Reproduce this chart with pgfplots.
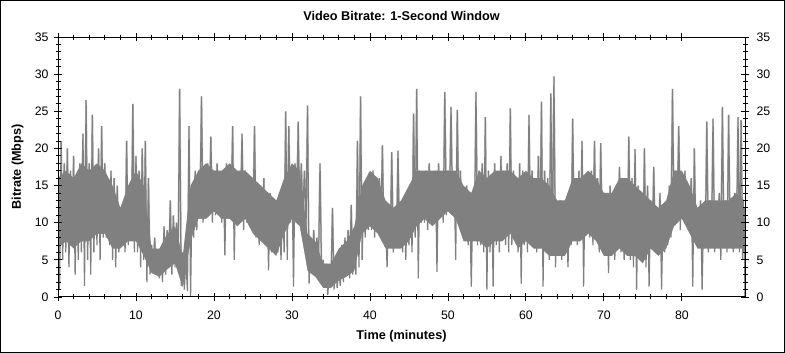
\documentclass[border=0pt]{standalone}
\usepackage{pgfplots}
\usepackage{pgfplotstable}
\pgfplotsset{compat=1.18}
\usepackage{fontspec}
\setmainfont{Liberation Sans}
\definecolor{bargray}{RGB}{128,128,128}
\definecolor{tipgray}{RGB}{211,211,211}
\pgfplotstableread[row sep=\\]{
x y\\
0 17\\0.2 1\\0.4 21\\0.6 5\\0.8 18\\
1 6\\1.2 20\\1.4 4\\1.6 17\\1.8 7\\
2 19\\2.2 3\\2.4 16\\2.6 5\\2.8 18\\
3 6\\3.2 22\\3.4 1.5\\3.6 26.5\\3.8 5\\
4 18\\4.2 3\\4.4 24.5\\4.6 6\\4.8 17\\
5 7\\5.2 20\\5.4 5\\5.6 23\\5.8 8\\
6 18\\6.2 8\\6.4 16\\6.6 7\\6.8 17\\
7 5\\7.2 16\\7.4 4\\7.6 15\\7.8 6\\
8 11\\8.2 7\\8.4 12\\8.6 6\\8.8 21\\
9 7\\9.2 15\\9.4 8\\9.6 26\\9.8 6\\
10 19\\10.2 6\\10.4 17\\10.6 4\\10.8 20\\
11 5\\11.2 21\\11.4 2\\11.6 16\\11.8 3\\
12 7\\12.2 3.5\\12.4 8\\12.6 3\\12.8 6\\
13 2.5\\13.2 6\\13.4 2\\13.6 9.5\\13.8 3\\
14 9\\14.2 4\\14.4 13\\14.6 3\\14.8 11\\
15 4\\15.2 10\\15.4 5\\15.6 28\\15.8 1.5\\
16 6\\16.2 1\\16.4 5\\16.6 0.8\\16.8 23\\
17 0\\17.2 15\\17.4 8\\17.6 17\\17.8 9\\
18 16\\18.2 11\\18.4 27\\18.6 10\\18.8 17\\
19 12\\19.2 18\\19.4 11\\19.6 21.6\\19.8 10\\
20 17\\20.2 11\\20.4 18\\20.6 12\\20.8 16\\
21 10\\21.2 17\\21.4 5.6\\21.6 18\\21.8 11\\
22 16\\22.2 12\\22.4 23\\22.6 5\\22.8 17\\
23 10\\23.2 16\\23.4 11\\23.6 22\\23.8 9\\
24 17\\24.2 10\\24.4 15\\24.6 11\\24.8 16\\
25 9\\25.2 23\\25.4 8\\25.6 15\\25.8 7\\
26 15\\26.2 8\\26.4 16\\26.6 7\\26.8 14\\
27 3.6\\27.2 14\\27.4 6\\27.6 13\\27.8 7\\
28 13\\28.2 6\\28.4 12\\28.6 5\\28.8 14\\
29 6\\29.2 25\\29.4 5\\29.6 23\\29.8 10\\
30 17\\30.2 1.4\\30.4 18\\30.6 10\\30.8 23.6\\
31 10\\31.2 18\\31.4 11\\31.6 17\\31.8 9\\
32 25.8\\32.2 1.8\\32.4 8\\32.6 4\\32.8 9\\
33 3\\33.2 8\\33.4 4\\33.6 18\\33.8 3\\
34 5\\34.2 1.5\\34.4 4.5\\34.6 0.3\\34.8 4\\
35 1.5\\35.2 12\\35.4 1\\35.6 5\\35.8 1.2\\
36 4\\36.2 1.5\\36.4 7\\36.6 2\\36.8 8\\
37 3\\37.2 9\\37.4 2.5\\37.6 12.4\\37.8 3\\
38 8\\38.2 3\\38.4 21\\38.6 4\\38.8 27\\
39 5\\39.2 14\\39.4 8\\39.6 16\\39.8 9\\
40 15\\40.2 9\\40.4 17\\40.6 8\\40.8 14\\
41 10\\41.2 16\\41.4 9\\41.6 20.4\\41.8 8\\
42 11\\42.2 4\\42.4 12\\42.6 7\\42.8 19.5\\
43 6\\43.2 11\\43.4 7\\43.6 19.7\\43.8 7\\
44 12\\44.2 6\\44.4 13\\44.6 5\\44.8 14\\
45 7\\45.2 15\\45.4 6\\45.6 24.7\\45.8 8\\
46 28\\46.2 2.5\\46.4 17\\46.6 10\\46.8 16\\
47 10\\47.2 17\\47.4 9\\47.6 18\\47.8 11\\
48 16\\48.2 10\\48.4 17\\48.6 3.4\\48.8 18\\
49 11\\49.2 16\\49.4 10\\49.6 27.6\\49.8 11\\
50 17\\50.2 12\\50.4 25.6\\50.6 11\\50.8 16\\
51 5\\51.2 25.2\\51.4 11\\51.6 17\\51.8 10\\
52 14\\52.2 8\\52.4 15\\52.6 7\\52.8 13\\
53 1.4\\53.2 14\\53.4 8\\53.6 27.6\\53.8 7\\
54 17\\54.2 7\\54.4 18\\54.6 6\\54.8 24.2\\
55 1\\55.2 17\\55.4 6\\55.6 16\\55.8 1.4\\
56 18\\56.2 7\\56.4 16\\56.6 6\\56.8 19\\
57 8\\57.2 17\\57.4 7\\57.6 18\\57.8 6\\
58 25.4\\58.2 7\\58.4 17\\58.6 8\\58.8 16\\
59 6\\59.2 18\\59.4 1.8\\59.6 17\\59.8 7\\
60 16\\60.2 6\\60.4 24.5\\60.6 7\\60.8 17\\
61 8\\61.2 16\\61.4 6\\61.6 19\\61.8 7\\
62 26.3\\62.2 1.4\\62.4 17\\62.6 6\\62.8 16\\
63 5\\63.2 27.4\\63.4 6\\63.6 29.7\\63.8 4\\
64 12\\64.2 6\\64.4 13\\64.6 5\\64.8 11\\
65 6\\65.2 12\\65.4 4\\65.6 14\\65.8 7\\
66 24\\66.2 8\\66.4 16\\66.6 7\\66.8 17\\
67 8\\67.2 21\\67.4 1.4\\67.6 16\\67.8 9\\
68 15\\68.2 8\\68.4 17\\68.6 7\\68.8 21\\
69 8\\69.2 16\\69.4 6\\69.6 20.7\\69.8 7\\
70 14\\70.2 6\\70.4 13\\70.6 3.2\\70.8 15\\
71 6\\71.2 14\\71.4 5\\71.6 13\\71.8 7\\
72 17.5\\72.2 6\\72.4 16\\72.6 5\\72.8 15\\
73 6\\73.2 21.6\\73.4 5\\73.6 16\\73.8 4\\
74 19.9\\74.2 1\\74.4 15\\74.6 5\\74.8 14\\
75 5\\75.2 20\\75.4 4\\75.6 15\\75.8 1.4\\
76 13\\76.2 7\\76.4 17.5\\76.6 6\\76.8 12\\
77 7\\77.2 14\\77.4 1\\77.6 12\\77.8 6\\
78 11\\78.2 7\\78.4 15\\78.6 8\\78.8 28\\
79 10\\79.2 17\\79.4 11\\79.6 23\\79.8 9\\
80 16\\80.2 11\\80.4 17\\80.6 10\\80.8 15\\
81 10\\81.2 16\\81.4 1.4\\81.6 20\\81.8 8\\
82 12\\82.2 7\\82.4 13\\82.6 1\\82.8 12\\
83 7\\83.2 23.6\\83.4 6\\83.6 13\\83.8 7\\
84 24\\84.2 6\\84.4 12\\84.6 8\\84.8 14\\
85 5\\85.2 25.6\\85.4 7\\85.6 13\\85.8 6\\
86 24.5\\86.2 7\\86.4 12\\86.6 6\\86.8 14\\
87 7\\87.2 24.2\\87.4 6\\87.6 23.8\\87.8 5\\
88 12\\88.1 0\\
}\bitrate
% dense core of the band: x, top, bottom
\pgfplotstableread[row sep=\\]{
x top bot\\
0 16 6.5\\1 17 7.5\\2 16 6.5\\3 18 7.5\\4 17 7.5\\5 18 8.5\\6 17 8.5\\7 15 6.5\\8 12 6.5\\9 15 7.5\\
10 17 7.5\\11 15 5.5\\12 6.5 3.2\\13 6.5 2.7\\14 8.5 3.7\\15 9.5 4.5\\16 5.5 1.2\\17 15 7.5\\18 17 10.5\\19 18 10.5\\
20 17 11.5\\21 17 10.5\\22 18 10.5\\23 17 9.5\\24 17 10.5\\25 16 8.5\\26 15 7.5\\27 14 6.5\\28 13 5.5\\29 16 8.5\\
30 18 10.5\\31 17 9.5\\32 8.5 3.5\\33 7.5 2.7\\34 4.5 1.2\\35 4.5 1.2\\36 6.5 2.2\\37 7.5 2.7\\38 9.5 3.5\\39 15 8.5\\
40 17 9.5\\41 16 8.5\\42 13 6.5\\43 12 6.5\\44 13 6.5\\45 15 7.5\\46 17 9.5\\47 17 10.5\\48 17 9.5\\49 17 10.5\\
50 17 11.5\\51 17 10.5\\52 15 7.5\\53 14 7.5\\54 17 7.5\\55 16 6.5\\56 17 7.5\\57 17 7.5\\58 17 8.5\\59 16 6.5\\
60 17 7.5\\61 16 6.5\\62 16 6.5\\63 15 5.5\\64 13 5.5\\65 13 5.5\\66 16 7.5\\67 16 7.5\\68 17 8.5\\69 16 7.5\\
70 14 5.5\\71 14 5.5\\72 16 6.5\\73 16 5.5\\74 15 5.5\\75 14 4.5\\76 13 6.5\\77 12 5.5\\78 13 6.5\\79 17 9.5\\
80 17 10.5\\81 15 8.5\\82 12 6.5\\83 13 6.5\\84 13 6.5\\85 13 6.5\\86 13 6.5\\87 14 6.5\\88 13 6.5\\
}\core
\begin{document}
\begin{tikzpicture}
\useasboundingbox (0,0) rectangle (785pt,353pt);
\fill[white] (0,0) rectangle (785pt,353pt);
\draw[line width=1pt] (0.5pt,0.5pt) rectangle (784.5pt,352.5pt);
\pgfplotsset{
  common/.style={
    at={(58pt,56pt)}, anchor=south west,
    scale only axis, width=687pt, height=260pt,
    xmin=0, xmax=88.1, ymin=0, ymax=35,
    ytick={0,5,...,35}, minor y tick num=4,
    xtick={0,10,...,80}, minor x tick num=4,
    tick align=center, major tick length=8pt, minor tick length=5pt,
    tick style={black, line width=0.8pt},
    axis line style={line width=1pt},
    /pgf/number format/assume math mode=true,
    ticklabel style={font=\fontsize{12.3}{14}\selectfont},
    xticklabel style={yshift=-6pt},
  }
}
\begin{axis}[common,
  axis on top,
  yticklabel style={xshift=-2pt},
  title={Video Bitrate: 1-Second Window},
  title style={at={(axis description cs:0.5,1.04)}, anchor=base, font=\bfseries\fontsize{12.7}{14}\selectfont},
  xlabel={Time (minutes)},
  xlabel style={at={(axis description cs:0.5,-0.162)}, anchor=base, font=\bfseries\fontsize{12.7}{14}\selectfont},
  ylabel={Bitrate (Mbps)},
  ylabel style={at={(axis description cs:-0.054,0.5)}, anchor=base, font=\bfseries\fontsize{12.7}{14}\selectfont},
]
\addplot[tipgray, line width=1.9pt, line join=bevel] table[x=x, y=y] {\bitrate};
\addplot[draw=none, fill=bargray] table[x=x, y=top] {\core} \closedcycle;
\addplot[draw=none, fill=white] table[x=x, y=bot] {\core} \closedcycle;
\addplot[bargray, line width=1.25pt, line join=bevel] table[x=x, y=y] {\bitrate};
\end{axis}
\begin{axis}[common, hide x axis, axis y line*=right, yticklabel pos=right, yticklabel style={xshift=4pt}]
\addplot[draw=none] coordinates {(0,0)};
\end{axis}
\end{tikzpicture}
\end{document}
